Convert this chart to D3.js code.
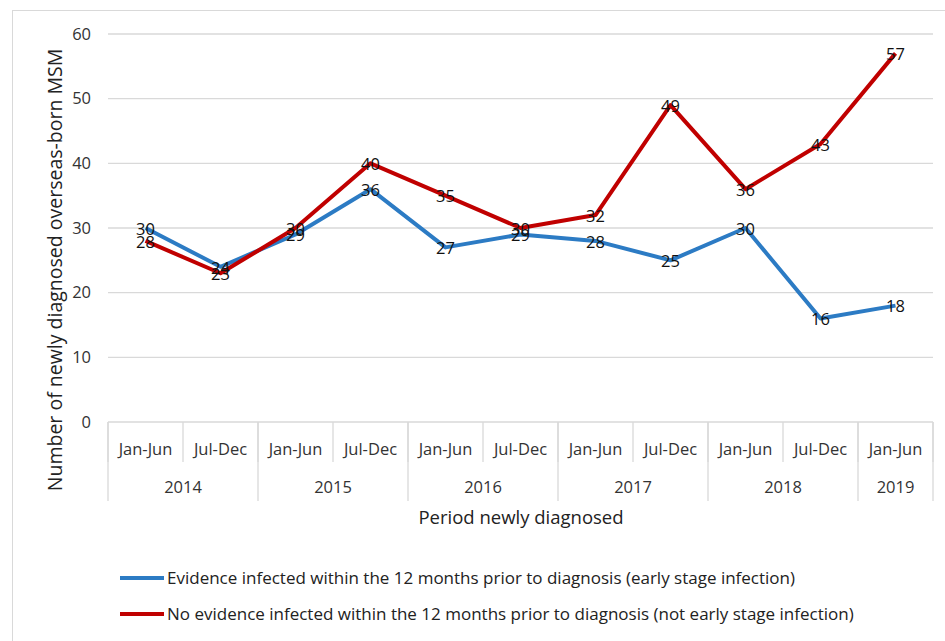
<!DOCTYPE html>
<html>
<head>
<meta charset="utf-8">
<script src="https://cdnjs.cloudflare.com/ajax/libs/d3/7.8.5/d3.min.js"></script>
<style>
    body { margin: 0; background: #fff; }
    svg { font-family: "Open Sans", "Noto Sans", sans-serif; }
</style>
</head>
<body>
<svg id="chart" width="945" height="641"></svg>
<script>
    const periods = ['Jan-Jun', 'Jul-Dec', 'Jan-Jun', 'Jul-Dec', 'Jan-Jun', 'Jul-Dec',
                     'Jan-Jun', 'Jul-Dec', 'Jan-Jun', 'Jul-Dec', 'Jan-Jun'];
    const years = ['2014', '2015', '2016', '2017', '2018', '2019'];
    const yearSpans = [2, 2, 2, 2, 2, 1];
    const earlyStage = [30, 24, 29, 36, 27, 29, 28, 25, 30, 16, 18];
    const notEarlyStage = [28, 23, 30, 40, 35, 30, 32, 49, 36, 43, 57];
    const yTicks = [0, 10, 20, 30, 40, 50, 60];
    const seriesNames = [
        'Evidence infected within the 12 months prior to diagnosis (early stage infection)',
        'No evidence infected within the 12 months prior to diagnosis (not early stage infection)'
    ];
    const colors = ['#2c7bc4', '#c00000'];

    const svg = d3.select('#chart');
    const grid = '#d9d9d9';

    // outer chart border
    svg.append('rect')
        .attr('x', 12.5).attr('y', 10.5)
        .attr('width', 940).attr('height', 640)
        .attr('fill', 'none').attr('stroke', grid);

    const x = d3.scaleBand().domain(d3.range(periods.length)).range([108, 933]);
    const y = d3.scaleLinear().domain([0, 60]).range([422, 34]);

    // gridlines
    svg.append('g').selectAll('line').data(yTicks).join('line')
        .attr('x1', 108).attr('x2', 933)
        .attr('y1', d => y(d)).attr('y2', d => y(d))
        .attr('stroke', grid).attr('stroke-width', 1.3);

    // y tick labels
    svg.append('g').selectAll('text').data(yTicks).join('text')
        .attr('x', 91).attr('y', d => y(d))
        .attr('dy', '0.35em')
        .attr('text-anchor', 'end')
        .attr('font-size', 16.5).attr('fill', '#333')
        .text(d => d);

    // y title
    svg.append('text')
        .attr('transform', 'translate(55,270) rotate(-90)')
        .attr('text-anchor', 'middle')
        .attr('dy', '0.35em')
        .attr('font-size', 19.5).attr('fill', '#222')
        .text('Number of newly diagnosed overseas-born MSM');

    // category axis: month separators and labels
    const axisG = svg.append('g');
    const bw = x.bandwidth();
    axisG.selectAll('line.p').data(d3.range(periods.length + 1)).join('line')
        .attr('class', 'p')
        .attr('x1', i => 108 + i * bw).attr('x2', i => 108 + i * bw)
        .attr('y1', 422).attr('y2', 462)
        .attr('stroke', grid).attr('stroke-width', 1.3);

    axisG.selectAll('text.p').data(periods).join('text')
        .attr('class', 'p')
        .attr('x', (d, i) => x(i) + bw / 2).attr('y', 449)
        .attr('dy', '0.35em')
        .attr('text-anchor', 'middle')
        .attr('font-size', 16.5).attr('fill', '#333')
        .text(d => d);

    // year groups
    let start = 0;
    const yearBounds = yearSpans.map((s, i) => {
        const b = { year: years[i], from: start, to: start + s };
        start += s;
        return b;
    });
    axisG.selectAll('line.y').data([0, ...yearBounds.map(b => b.to)]).join('line')
        .attr('class', 'y')
        .attr('x1', i => 108 + i * bw).attr('x2', i => 108 + i * bw)
        .attr('y1', 422).attr('y2', 501)
        .attr('stroke', grid).attr('stroke-width', 1.3);

    axisG.selectAll('text.y').data(yearBounds).join('text')
        .attr('class', 'y')
        .attr('x', b => 108 + (b.from + b.to) / 2 * bw).attr('y', 487)
        .attr('dy', '0.35em')
        .attr('text-anchor', 'middle')
        .attr('font-size', 16.5).attr('fill', '#333')
        .text(b => b.year);

    svg.append('text')
        .attr('x', 521).attr('y', 518)
        .attr('dy', '0.35em')
        .attr('text-anchor', 'middle')
        .attr('font-size', 18.5).attr('fill', '#222')
        .text('Period newly diagnosed');

    // lines
    const line = d3.line()
        .x((d, i) => x(i) + bw / 2)
        .y(d => y(d));

    [earlyStage, notEarlyStage].forEach((vals, s) => {
        svg.append('path')
            .datum(vals)
            .attr('d', line)
            .attr('fill', 'none')
            .attr('stroke', colors[s])
            .attr('stroke-width', 4)
            .attr('stroke-linejoin', 'round');
    });

    // data labels
    [earlyStage, notEarlyStage].forEach(vals => {
        svg.append('g').selectAll('text').data(vals).join('text')
            .attr('x', (d, i) => x(i) + bw / 2)
            .attr('y', d => y(d) + 1)
            .attr('dy', '0.35em')
            .attr('text-anchor', 'middle')
            .attr('font-size', 16.5).attr('fill', '#111')
            .text(d => d);
    });

    // legend
    const legend = svg.append('g');
    seriesNames.forEach((name, i) => {
        const ly = 578 + i * 36;
        legend.append('line')
            .attr('x1', 120).attr('x2', 164)
            .attr('y1', ly).attr('y2', ly)
            .attr('stroke', colors[i]).attr('stroke-width', 4);
        legend.append('text')
            .attr('x', 167).attr('y', ly)
            .attr('dy', '0.35em')
            .attr('font-size', 17).attr('fill', '#222')
            .text(name);
    });
</script>
</body>
</html>
